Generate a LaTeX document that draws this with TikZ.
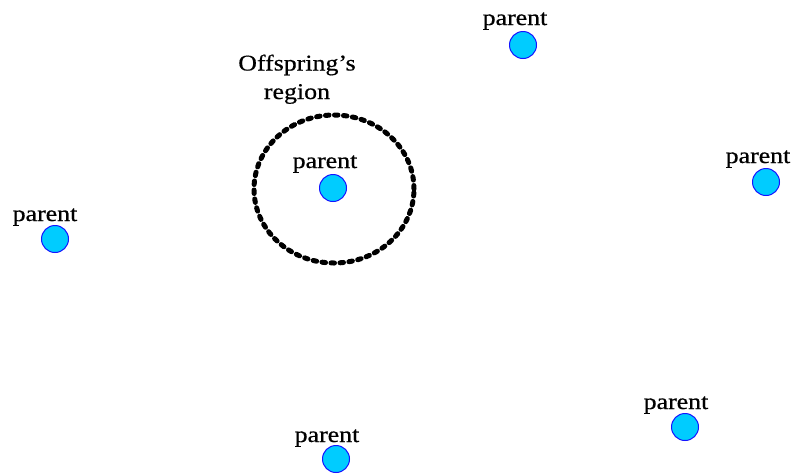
\documentclass[tikz,border=0pt]{standalone}
\usepackage{fontspec}
\usetikzlibrary{shapes.geometric}
\newfontfamily\lblfont{Liberation Serif}[FakeStretch=1.15,FakeBold=0.6]
\definecolor{dotfill}{RGB}{0,204,255}
\definecolor{dotline}{RGB}{20,20,255}
\begin{document}
\begin{tikzpicture}[x=1pt,y=-1pt,
  pdot/.style={circle,draw=dotline,fill=dotfill,line width=1pt,minimum size=27pt,inner sep=0pt},
  plabel/.style={anchor=base,inner sep=0pt,font=\lblfont\fontsize{22.5}{25}\selectfont},
  region/.style={draw=black,line width=5pt,line cap=round,dash pattern=on 3.5pt off 5.5pt}]
\useasboundingbox (0,0) rectangle (793,475);
% offspring region
\node[region,ellipse,minimum width=160pt,minimum height=148pt,inner sep=0pt] (reg) at (334,189) {};
\node[plabel,align=center,font=\lblfont\fontsize{22.5}{28.5}\selectfont] (regl) at (297,99) {Offspring’s\\region};
% parents
\node[pdot] (p1) at (523,45) {};
\node[plabel] (l1) at (515,25) {parent};
\node[pdot] (p2) at (333,188) {};
\node[plabel] (l2) at (325,168) {parent};
\node[pdot] (p3) at (55,239) {};
\node[plabel] (l3) at (45,221) {parent};
\node[pdot] (p4) at (766,182) {};
\node[plabel] (l4) at (758,163) {parent};
\node[pdot] (p5) at (336,459) {};
\node[plabel] (l5) at (327,442) {parent};
\node[pdot] (p6) at (685,427) {};
\node[plabel] (l6) at (676,409) {parent};
\end{tikzpicture}
\end{document}
